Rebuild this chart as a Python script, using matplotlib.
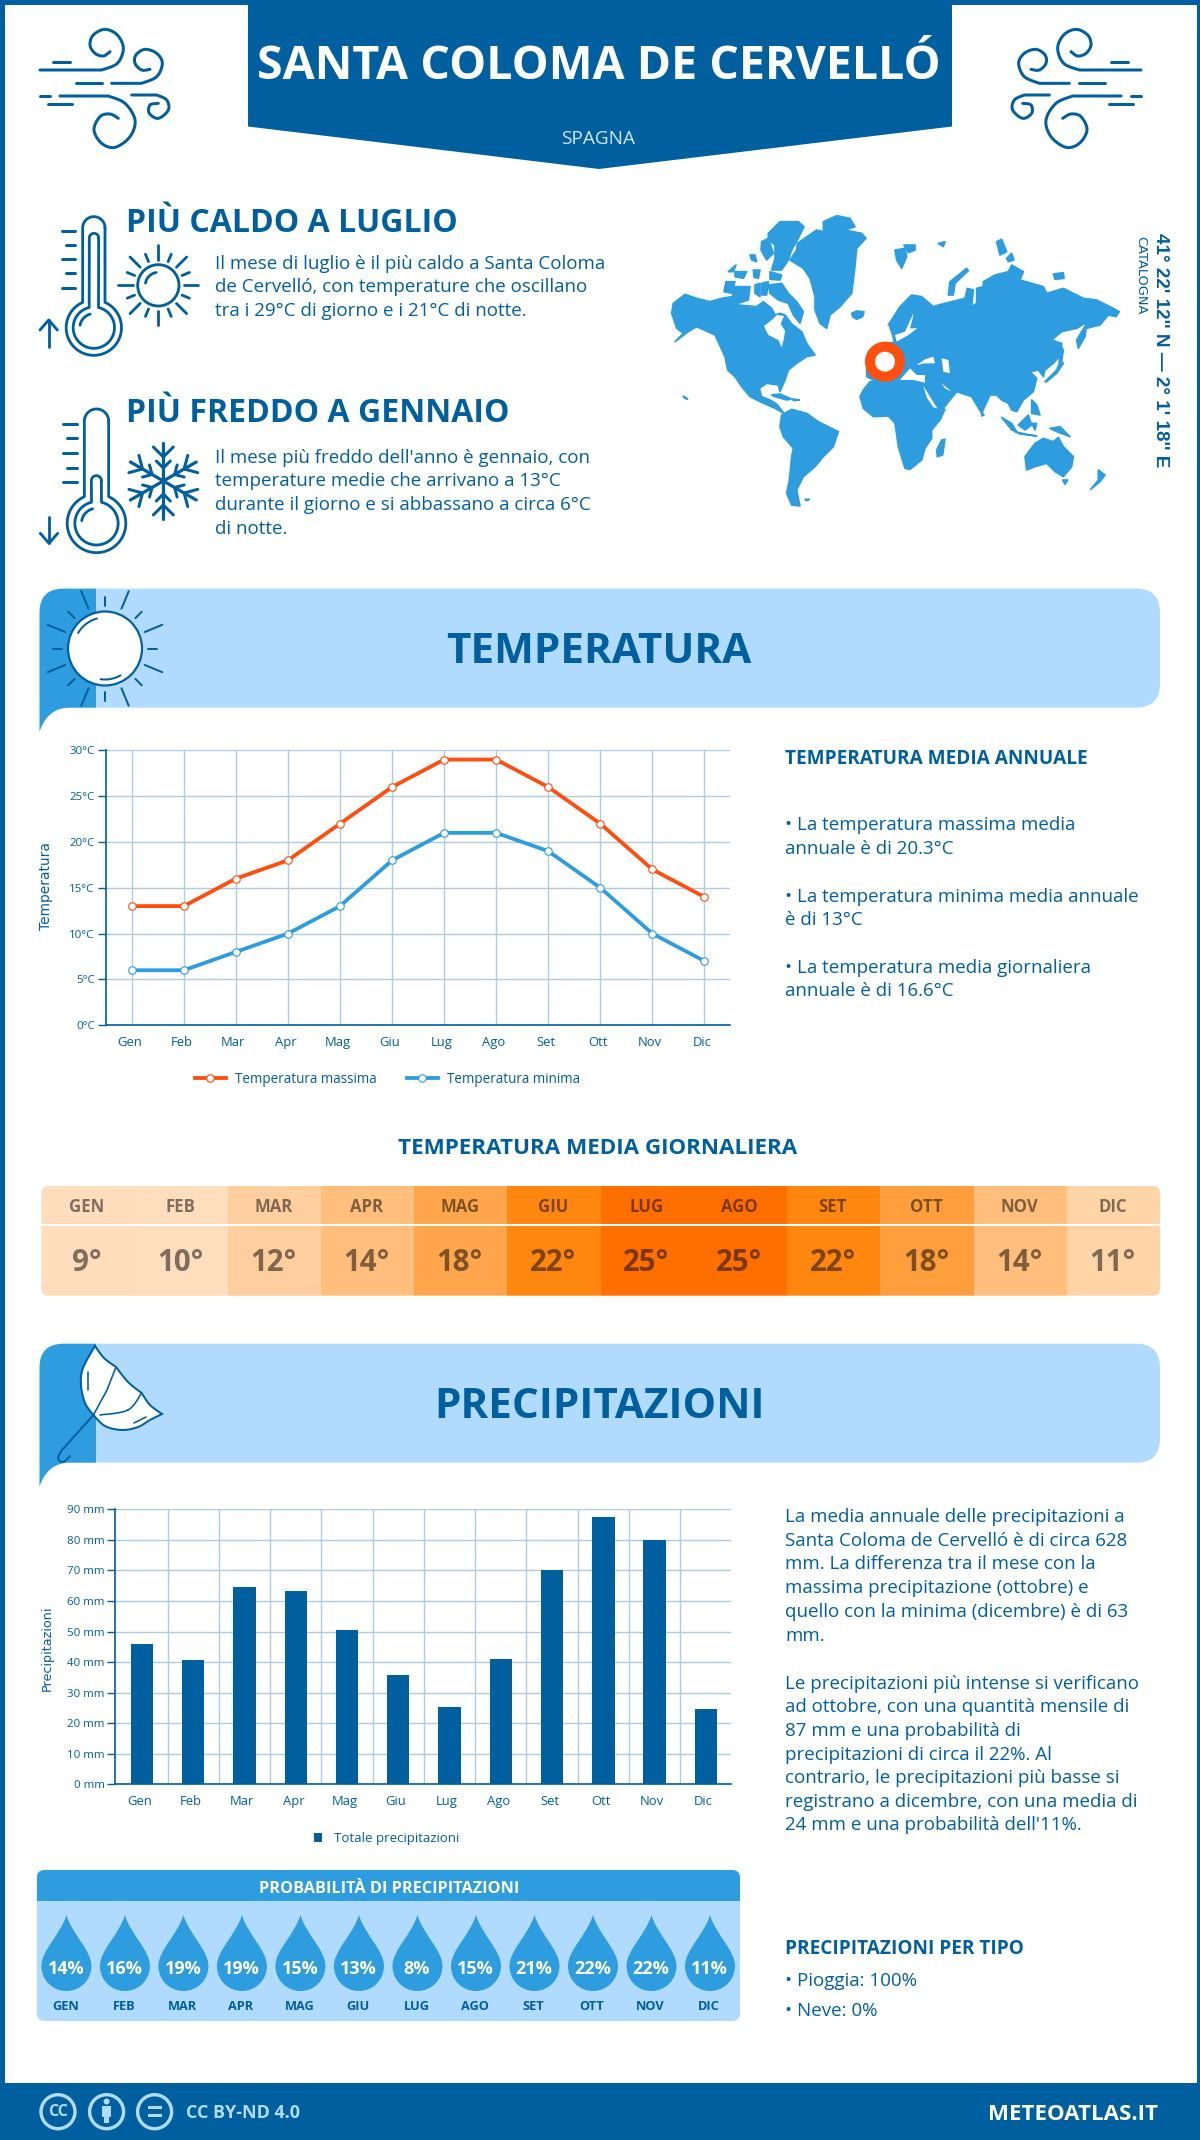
import numpy as np
import matplotlib
matplotlib.use("Agg")
import matplotlib.pyplot as plt
from matplotlib.patches import Circle, FancyBboxPatch, PathPatch, Polygon, Rectangle
from matplotlib.path import Path
from matplotlib.transforms import ScaledTranslation

plt.rcParams['font.family'] = ['Open Sans', 'DejaVu Sans']

months = ['Gen', 'Feb', 'Mar', 'Apr', 'Mag', 'Giu', 'Lug', 'Ago', 'Set', 'Ott', 'Nov', 'Dic']
temp_max = [13, 13, 16, 18, 22, 26, 29, 29, 26, 22, 17, 14]
temp_min = [6, 6, 8, 10, 13, 18, 21, 21, 19, 15, 10, 7]
temp_mean = [9, 10, 12, 14, 18, 22, 25, 25, 22, 18, 14, 11]
temp_colors = ['#FFDCBB', '#FFDDBD', '#FFCE9E', '#FFBE7C', '#FFA64D', '#FF870F',
               '#FF6F00', '#FF6F00', '#FF870F', '#FF9E3D', '#FFBE7C', '#FFD5A8']
precip = [46, 40.7, 64.7, 63.3, 50.5, 35.7, 25.3, 41, 70.2, 87.5, 80, 24.6]
prob = [14, 16, 19, 19, 15, 13, 8, 15, 21, 22, 22, 11]
temp_ticks = [0, 5, 10, 15, 20, 25, 30]
precip_ticks = [0, 10, 20, 30, 40, 50, 60, 70, 80, 90]

hot_text = ["Il mese di luglio è il più caldo a Santa Coloma",
            "de Cervelló, con temperature che oscillano",
            "tra i 29°C di giorno e i 21°C di notte."]
cold_text = ["Il mese più freddo dell'anno è gennaio, con",
             "temperature medie che arrivano a 13°C",
             "durante il giorno e si abbassano a circa 6°C",
             "di notte."]
annual_text = ["• La temperatura massima media", "annuale è di 20.3°C",
               "• La temperatura minima media annuale", "è di 13°C",
               "• La temperatura media giornaliera", "annuale è di 16.6°C"]
rain_text = ["La media annuale delle precipitazioni a",
             "Santa Coloma de Cervelló è di circa 628",
             "mm. La differenza tra il mese con la",
             "massima precipitazione (ottobre) e",
             "quello con la minima (dicembre) è di 63",
             "mm.",
             "Le precipitazioni più intense si verificano",
             "ad ottobre, con una quantità mensile di",
             "87 mm e una probabilità di",
             "precipitazioni di circa il 22%. Al",
             "contrario, le precipitazioni più basse si",
             "registrano a dicembre, con una media di",
             "24 mm e una probabilità dell'11%."]

map_west = [
    [(40,310),(75,283),(110,295),(150,305),(185,295),(215,290),(235,315),(290,320),(310,305),(335,325),(345,345),(360,340),(375,345),(395,372),(412,385),(425,395),(440,430),(465,465),(440,470),(410,490),(385,510),(375,540),(360,575),(355,555),(320,550),(298,565),(305,590),(330,600),(350,612),(372,640),(345,625),(300,605),(270,590),(245,560),(225,530),(203,510),(195,470),(165,405),(110,380),(85,395),(45,425),(70,400),(50,385),(42,360),(35,340)],
    [(325,255),(365,250),(385,280),(410,305),(430,335),(420,370),(400,345),(385,310),(355,300),(330,280)],
    [(220,260),(270,260),(265,300),(235,310),(218,290)],
    [(198,245),(225,245),(215,280),(192,275)],
    [(280,210),(300,210),(295,235),(282,232)],
    [(225,215),(260,215),(250,235),(225,230)],
    [(205,215),(228,195),(220,215)],
    [(285,255),(300,250),(300,290),(285,280)],
    [(305,250),(325,245),(320,285),(305,285)],
    [(270,165),(285,165),(290,185),(275,180)],
    [(325,100),(360,65),(415,65),(432,80),(415,115),(395,150),(385,180),(365,210),(335,210),(345,175),(345,135),(325,120)],
    [(305,125),(325,115),(340,160),(320,180),(303,150)],
    [(330,215),(365,225),(360,240),(330,238)],
    [(412,130),(470,90),(490,95),(490,65),(530,47),(570,55),(585,80),(555,90),(605,100),(618,115),(590,145),(585,200),(575,280),(540,320),(510,345),(500,385),(480,370),(465,330),(465,290),(450,235),(430,205),(390,180),(410,150)],
    [(575,340),(590,333),(612,335),(608,350),(590,358),(578,350)],
    [(335,585),(360,582),(395,597),(380,600),(345,590)],
    [(398,597),(418,600),(400,602)],
    [(70,588),(83,597),(75,595)],
    [(365,645),(395,628),(440,640),(475,665),(535,695),(520,740),(490,770),(465,800),(430,830),(410,870),(420,918),(395,915),(380,880),(388,840),(395,770),(400,745),(370,710),(360,680)],
    [(435,898),(448,898),(440,902)],
]
map_west_holes = [[(312,378),(338,358),(350,345),(372,348),(362,372),(375,392),(372,415),(365,442),(355,420),(325,405)]]
map_east = [
    [(-60,590),(-50,570),(-30,545),(10,540),(60,540),(130,555),(150,600),(170,625),(195,628),(180,660),(155,690),(155,715),(135,745),(125,780),(90,808),(75,805),(55,740),(45,670),(25,648),(-20,650),(-50,625)],
    [(170,750),(185,720),(195,718),(188,765),(172,770)],
    [(-40,500),(-20,440),(40,425),(25,375),(60,320),(95,285),(125,290),(160,320),(175,315),(215,305),(255,295),(262,265),(280,270),(275,320),(290,310),(290,265),(310,260),(310,245),(345,225),(385,215),(395,195),(430,215),(420,240),(490,260),(500,280),(550,265),(610,295),(650,300),(700,325),(718,335),(708,350),(685,345),(660,375),(620,385),(615,370),(590,385),(545,395),(515,420),(545,430),(545,460),(520,490),(495,510),(490,530),(475,510),(450,515),(470,535),(460,575),(430,600),(410,635),(395,630),(385,610),(365,600),(350,585),(330,585),(305,640),(275,590),(230,575),(190,625),(170,625),(145,580),(130,555),(100,545),(60,545),(-10,545),(-40,530)],
    [(45,150),(75,145),(80,170),(65,205),(50,180)],
    [(72,135),(105,135),(105,150),(85,158)],
    [(205,285),(210,245),(260,205),(265,212),(225,250),(220,285)],
    [(350,125),(365,118),(380,155),(360,165)],
    [(380,175),(395,160),(402,180),(385,185)],
    [(520,222),(550,218),(552,235),(525,238)],
    [(175,130),(195,125),(190,140)],
    [(590,420),(620,370),(615,410),(595,445)],
    [(495,545),(530,510),(538,490),(535,430),(550,450),(545,485),(550,490),(530,520),(500,545)],
    [(455,600),(470,615),(480,645),(455,640)],
    [(415,675),(445,645),(455,675),(435,690)],
    [(365,652),(395,670),(410,695),(395,690)],
    [(405,695),(450,705),(470,708),(420,702)],
    [(455,670),(470,670),(465,690)],
    [(510,685),(540,680),(570,710),(530,695)],
    [(435,770),(465,730),(490,715),(520,725),(535,712),(550,740),(580,770),(575,800),(550,830),(525,815),(500,790),(465,800),(440,810)],
    [(548,840),(563,840),(555,853)],
    [(655,810),(675,825),(660,845),(632,868),(655,840)],
    [(305,635),(312,645),(305,648)],
]
map_east_holes = [
    [(60,540),(90,505),(110,525),(135,525),(135,548),(100,540)],
    [(110,495),(135,478),(160,470),(165,490),(135,490)],
    [(185,475),(205,480),(210,520),(190,515)],
    [(185,550),(215,575),(195,565)],
    [(130,558),(150,590),(172,625),(160,622),(140,592)],
    [(100,340),(75,395),(45,405),(50,425),(85,405),(112,385),(90,385),(98,355)],
    [(25,375),(35,405),(40,425),(10,425)],
]

DARK = '#005F9E'
MID = '#2D9DDF'
LIGHT = '#B0DBFF'
ORANGE = '#FF4E0D'
GRID = '#AFCBE0'


def fs(px):
    return px * 0.72


fig = plt.figure(figsize=(12, 21.4), dpi=100, facecolor='white')
bg = fig.add_axes([0, 0, 1, 1])
bg.set_xlim(0, 1200)
bg.set_ylim(2140, 0)
bg.axis('off')


def ptext(x, y, s, px, color=DARK, weight='normal', ha='left', **kw):
    return bg.text(x, y, s, fontsize=fs(px), color=color, fontweight=weight, ha=ha, va='baseline', **kw)


def spline(pts, n=14):
    # catmull-rom through the points, icons only
    p = np.array([pts[0]] + list(pts) + [pts[-1]], float)
    out = []
    for i in range(1, len(p) - 2):
        t = np.linspace(0, 1, n)[:, None]
        out.append(0.5 * (2 * p[i] + (p[i + 1] - p[i - 1]) * t
                          + (2 * p[i - 1] - 5 * p[i] + 4 * p[i + 1] - p[i + 2]) * t ** 2
                          + (3 * p[i] - p[i - 1] - 3 * p[i + 1] + p[i + 2]) * t ** 3))
    return np.vstack(out)


def stroke(xy, lw=3, color=DARK, z=5):
    xy = np.asarray(xy, float)
    bg.plot(xy[:, 0], xy[:, 1], color=color, lw=fs(lw), solid_capstyle='round', solid_joinstyle='round', zorder=z)


def arc(cx, cy, r, a0, a1):
    a = np.radians(np.linspace(a0, a1, 50))
    return np.c_[cx + r * np.cos(a), cy - r * np.sin(a)]


# page frame, header, footer
bg.add_patch(Rectangle((0, 0), 1200, 2140, fc='white', ec='none', zorder=0))
bg.add_patch(Rectangle((1.5, 1.5), 1197, 2137, fc='none', ec=DARK, lw=fs(5), zorder=1))
bg.add_patch(Polygon([(248, 0), (952, 0), (952, 126.5), (599, 169), (248, 126.5)], fc=DARK, ec='none', zorder=2))
bg.add_patch(Rectangle((0, 2082.5), 1200, 58, fc=DARK, ec='none', zorder=2))
ptext(598.5, 79, 'SANTA COLOMA DE CERVELLÓ', 46.5, color='white', weight='bold', ha='center', zorder=6)
ptext(598, 144.5, 'SPAGNA', 19, color='#CFE6F7', ha='center', zorder=6)


def wind(flip=False):
    def T(pts):
        pts = np.asarray(pts, float)
        x = 30 + pts[:, 0] / 3
        y = 20 + pts[:, 1] / 3
        if flip:
            x = 1181 - x
        return np.c_[x, y]
    for seg in [[(68, 125), (120, 125)], [(138, 190), (215, 190)], [(30, 228), (60, 228)], [(55, 252), (125, 252)]]:
        stroke(T(seg))
    stroke(T(np.vstack([[(30, 150)], spline([(215, 150), (262, 130), (280, 85), (262, 45), (225, 28), (190, 45), (180, 75), (195, 100), (220, 108), (240, 95)])])))
    stroke(T(np.vstack([[(245, 190)], spline([(335, 190), (380, 170), (397, 130), (380, 100), (345, 88), (318, 105), (315, 130), (335, 150), (360, 148)])])))
    stroke(T(np.vstack([[(90, 228)], spline([(235, 228), (285, 250), (315, 300), (300, 350), (255, 382), (215, 370), (192, 330), (210, 290), (240, 282), (265, 295)])])))
    stroke(T(np.vstack([[(305, 225)], spline([(380, 225), (410, 240), (415, 270), (385, 295), (358, 280), (360, 255), (385, 250)])])))


wind()
wind(True)


def thermometer(ox, oy, tube, top, cy, r, itube, itop, ir, tick_x, tick_ys, arrow):
    def T(p):
        p = np.asarray(p, float)
        return np.c_[ox + p[:, 0] / 3, oy + p[:, 1] / 3]
    cx = (tube[0] + tube[1]) / 2
    hw = (tube[1] - tube[0]) / 2
    a = np.degrees(np.arcsin(hw / r))
    outer = np.vstack([arc(cx, top + hw, hw, 0, 180),
                       arc(cx, cy, r, 90 + a, 450 - a)])
    stroke(T(np.vstack([outer, outer[:1]])), lw=2.8)
    ihw = (itube[1] - itube[0]) / 2
    icx = (itube[0] + itube[1]) / 2
    a = np.degrees(np.arcsin(ihw / ir))
    inner = np.vstack([arc(icx, itop + ihw, ihw, 0, 180),
                       arc(cx, cy, ir, 90 + a, 450 - a)])
    stroke(T(np.vstack([inner, inner[:1]])), lw=2.8)
    stroke(T(arc(cx, cy, ir - 20, 105, 170)), lw=2.8)
    for k, yy in enumerate(tick_ys):
        x0 = tick_x[0] + (10 if k % 2 else 0)
        stroke(T([(x0, yy), (tick_x[1], yy)]), lw=3)
    ax_, y0, y1, dy = arrow
    stroke(T([(ax_, y0), (ax_, y1)]), lw=2.8)
    stroke(T([(ax_ - 26, y1 + dy), (ax_, y1), (ax_ + 26, y1 + dy)]), lw=2.8)


thermometer(30, 205, (158, 225), 35, 368, 83, (178, 206), 85, 62, (97, 135),
            [77, 120, 163, 205, 248], (56, 425, 345, 30))
thermometer(30, 395, (163, 236), 42, 385, 88, (184, 214), 242, 65, (100, 140),
            [86, 130, 174, 218, 262], (57, 365, 445, -30))

# small sun
sx, sy = 30 + 385 / 3, 205 + 241 / 3
bg.add_patch(Circle((sx, sy), 62 / 3, fc='none', ec=DARK, lw=fs(2.8), zorder=5))
stroke(arc(sx, sy, 13, 100, 170), lw=2.8)
for k in range(16):
    ang = np.radians(k * 22.5)
    r1 = 120 / 3 if k % 2 == 0 else 101 / 3
    stroke([(sx + 77 / 3 * np.cos(ang), sy - 77 / 3 * np.sin(ang)),
            (sx + r1 * np.cos(ang), sy - r1 * np.sin(ang))], lw=2.8)

# snowflake
fx, fy = 30 + 400 / 3, 395 + 258 / 3
for k in range(6):
    ang = np.radians(30 + k * 60)
    u = np.array([np.cos(ang), -np.sin(ang)])
    v = np.array([-u[1], u[0]])
    c = np.array([fx, fy])
    stroke([c, c + 38 * u], lw=3.2)
    stroke([c + 34 * u + 10 * v, c + 24 * u, c + 34 * u - 10 * v], lw=3)
    stroke([c + 20 * u + 7 * v, c + 13 * u, c + 20 * u - 7 * v], lw=3)

ptext(125.5, 232, 'PIÙ CALDO A LUGLIO', 32, weight='bold')
ptext(125.5, 422.5, 'PIÙ FREDDO A GENNAIO', 32, weight='bold')
for yy, line in zip([269, 292.5, 316], hot_text):
    ptext(215, yy, line, 18.8)
for yy, line in zip([463, 486.5, 510, 534], cold_text):
    ptext(215, yy, line, 18.8)

# world map
for group, ox, holes in [(map_west, 660, map_west_holes), (map_east, 880, map_east_holes)]:
    for poly in group:
        p = np.array(poly, float)
        bg.add_patch(Polygon(np.c_[ox + p[:, 0] / 3, 200 + p[:, 1] / 3], fc=MID, ec=MID, lw=1.2, joinstyle='round', zorder=3))
    for poly in holes:
        p = np.array(poly, float)
        bg.add_patch(Polygon(np.c_[ox + p[:, 0] / 3, 200 + p[:, 1] / 3], fc='white', ec='none', zorder=4))
bg.add_patch(Circle((885, 361.7), 15, fc='white', ec=ORANGE, lw=fs(10), zorder=6))
bg.text(1160, 350, '41° 22\' 12\'\' N — 2° 1\' 18\'\' E', rotation=-90, fontsize=fs(18.9), color=DARK, fontweight='bold',
        family='Liberation Sans', ha='center', va='center')
bg.text(1140.5, 275, 'CATALOGNA', rotation=-90, fontsize=fs(13), color=DARK, family='DejaVu Sans', ha='center', va='center')


def banner(top, bottom, title):
    left, split, right, r = 39.5, 96, 1160, 24
    dark = Path([(left, bottom + 24), (left, top + r), (left, top), (left + r, top), (split, top), (split, bottom),
                 (left + 30, bottom), (left + 8, bottom), (left, bottom + 24), (left, bottom + 24)],
                [Path.MOVETO, Path.LINETO, Path.CURVE3, Path.CURVE3, Path.LINETO, Path.LINETO, Path.LINETO,
                 Path.CURVE3, Path.CURVE3, Path.CLOSEPOLY])
    bg.add_patch(PathPatch(dark, fc=MID, ec='none', zorder=2))
    light = Path([(split, top), (right - r, top), (right, top), (right, top + r), (right, bottom - r), (right, bottom),
                  (right - r, bottom), (split, bottom), (split, top)],
                 [Path.MOVETO, Path.LINETO, Path.CURVE3, Path.CURVE3, Path.LINETO, Path.CURVE3, Path.CURVE3,
                  Path.LINETO, Path.CLOSEPOLY])
    bg.add_patch(PathPatch(light, fc=LIGHT, ec='none', zorder=2))
    ptext(599, (top + bottom) / 2 + 15, title, 42.3, weight='bold', ha='center', zorder=6)


banner(588.6, 707.7, 'TEMPERATURA')
banner(1343.7, 1462.7, 'PRECIPITAZIONI')

# banner sun
cx, cy = 105, 648.5
bg.add_patch(Circle((cx, cy), 37, fc='white', ec=DARK, lw=fs(2.2), zorder=5))
stroke(arc(cx, cy, 31, 105, 150), lw=2)
stroke(arc(cx, cy, 31, 262, 300), lw=2)
for k in range(16):
    ang = np.radians(k * 22.5)
    r1 = 62 if k % 2 else 52
    stroke([(cx + 43 * np.cos(ang), cy - 43 * np.sin(ang)), (cx + r1 * np.cos(ang), cy - r1 * np.sin(ang))], lw=2)

# umbrella
canopy = np.vstack([spline([(95, 1346), (83, 1368), (81, 1385), (85, 1403), (93.4, 1415)]),
                    spline([(93.4, 1415), (105, 1426), (122, 1430), (138, 1427), (150, 1420), (162, 1414)]),
                    spline([(162, 1414), (150, 1405), (141.6, 1393)]),
                    spline([(141.6, 1393), (128, 1382), (116, 1367)]),
                    spline([(116, 1367), (104, 1358), (95, 1346)])])
bg.add_patch(Polygon(canopy, fc='white', ec=DARK, lw=fs(2), zorder=5))
stroke([(116, 1367), (107, 1390), (93.4, 1415)], lw=1.6, z=6)
stroke(spline([(141.6, 1393), (128, 1410), (100, 1415)]), lw=1.6, z=6)
stroke([(88, 1372), (88, 1390)], lw=1.6, z=6)
stroke([(134, 1423), (146, 1417)], lw=1.6, z=6)
stroke([(93.4, 1415), (62, 1450)], lw=2, z=6)
stroke(spline([(62, 1450), (58, 1458), (63, 1462), (70, 1456)]), lw=2, z=6)

# temperature chart
ax = fig.add_axes([105.7 / 1200, 1 - 1025.2 / 2140, 624.8 / 1200, 274.8 / 2140])
x = np.arange(12)
ax.plot(x, temp_max, color=ORANGE, lw=fs(3.8), marker='o', ms=fs(7.5), mfc='white', mec=ORANGE, mew=0.8, label='Temperatura massima', zorder=4)
ax.plot(x, temp_min, color=MID, lw=fs(3.8), marker='o', ms=fs(7.5), mfc='white', mec=MID, mew=0.8, label='Temperatura minima', zorder=4)
ax.set_xlim(-0.5, 11.5)
ax.set_ylim(0, 30)
ax.set_yticks(temp_ticks)
ax.set_yticklabels([f'{t}°C' for t in temp_ticks])
ax.set_xticks(x)
ax.set_xticklabels(months)
ax.grid(True, color=GRID, lw=1)
ax.set_axisbelow(True)
ax.set_ylabel('Temperatura', fontsize=fs(13.7), color=DARK, family='DejaVu Sans')
ax.yaxis.set_label_coords(-0.084, 0.505)
ax.legend(loc='center', bbox_to_anchor=(387.5 / 1200, 1 - 1079.6 / 2140), bbox_transform=fig.transFigure, ncol=2,
          frameon=False, fontsize=fs(13.5), labelcolor=DARK, handlelength=2.3, columnspacing=2.2, handletextpad=0.7)

# precipitation chart
ax2 = fig.add_axes([115.4 / 1200, 1 - 1784.3 / 2140, 615.1 / 1200, 275 / 2140])
ax2.bar(x, precip, width=0.435, color=DARK, label='Totale precipitazioni', zorder=3)
ax2.set_xlim(-0.52, 11.48)
ax2.set_ylim(0, 90)
ax2.set_yticks(precip_ticks)
ax2.set_yticklabels([f'{t} mm' for t in precip_ticks])
ax2.set_xticks(x)
ax2.set_xticklabels(months)
ax2.set_xticks(x[:-1] + 0.5, minor=True)
ax2.grid(True, axis='y', color=GRID, lw=1)
ax2.grid(True, axis='x', which='minor', color=GRID, lw=1)
ax2.tick_params(axis='x', which='minor', length=0)
ax2.set_axisbelow(True)
ax2.set_ylabel('Precipitazioni', fontsize=fs(12.8), color=DARK, family='DejaVu Sans')
ax2.yaxis.set_label_coords(-0.10, 0.496)
ax2.legend(loc='center', bbox_to_anchor=(387 / 1200, 1 - 1838.7 / 2140), bbox_transform=fig.transFigure,
           frameon=False, fontsize=fs(13.3), labelcolor=DARK, handlelength=0.6, handleheight=0.6, handletextpad=0.9)

for a in (ax, ax2):
    for side in ('top', 'right'):
        a.spines[side].set_visible(False)
    for side in ('left', 'bottom'):
        a.spines[side].set_color(DARK)
        a.spines[side].set_linewidth(1.2)
    a.tick_params(axis='y', length=fs(8), width=1, color=DARK, labelcolor=DARK, labelsize=fs(11.5), pad=fs(3))
    a.tick_params(axis='x', which='major', length=0, labelcolor=DARK, labelsize=fs(13), pad=fs(11))
    for lab in a.get_xticklabels():
        lab.set_transform(lab.get_transform() + ScaledTranslation(-2.5 / 100, 0, fig.dpi_scale_trans))

# right column
ptext(785, 763.5, 'TEMPERATURA MEDIA ANNUALE', 19, weight='bold')
for yy, line in zip([830, 853.5, 902, 925, 973, 996.5], annual_text):
    ptext(785, yy, line, 18.8)
rain_base = [1522.3, 1545.5, 1569.3, 1593.2, 1617, 1640.6, 1688.6, 1712.5, 1735.6, 1759.5, 1783.4, 1807.2, 1830.4]
for yy, line in zip(rain_base, rain_text):
    ptext(785, yy, line, 18.8)
ptext(785, 1953.5, 'PRECIPITAZIONI PER TIPO', 19, weight='bold')
ptext(785, 1985.5, '• Pioggia: 100%', 18.8)
ptext(785, 2015.5, '• Neve: 0%', 18.8)

# mean temperature strip
ptext(598, 1154, 'TEMPERATURA MEDIA GIORNALIERA', 22.4, weight='bold', ha='center')
sl, sr, st, sb = 41.3, 1160, 1186, 1295.7
clip = FancyBboxPatch((sl, st), sr - sl, sb - st, boxstyle='round,pad=0,rounding_size=7', fc='none', ec='none', transform=bg.transData)
bg.add_patch(clip)
cw = (sr - sl) / 12
for i, (m, t, c) in enumerate(zip(months, temp_mean, temp_colors)):
    cell = Rectangle((sl + i * cw, st), cw + 0.5, sb - st, fc=c, ec='none', zorder=2)
    bg.add_patch(cell)
    cell.set_clip_path(clip)
    mid = sl + (i + 0.5) * cw - 1
    ptext(mid, 1212, m.upper(), 16.8, color='black', weight='bold', ha='center', alpha=0.5, zorder=4)
    ptext(mid, 1271, f'{t}°', 29.5, color='black', weight='bold', ha='center', alpha=0.5, zorder=4)
bg.plot([sl, sr], [1225, 1225], color='white', lw=1.5, zorder=3)

# rain probability box
pl, pr, pt, pm, pb = 36.8, 740, 1870, 1901, 2021
box = FancyBboxPatch((pl, pt), pr - pl, pb - pt, boxstyle='round,pad=0,rounding_size=8', fc=LIGHT, ec='none', zorder=2)
bg.add_patch(box)
head = Rectangle((pl, pt), pr - pl, pm - pt, fc=MID, ec='none', zorder=3)
bg.add_patch(head)
head.set_clip_path(box)
ptext(389, 1893, 'PROBABILITÀ DI PRECIPITAZIONI', 16.3, color='white', weight='bold', ha='center', zorder=5)
drop_step = (710 - 66.4) / 11
for i, (m, p) in enumerate(zip(months, prob)):
    dx = 66.4 + i * drop_step
    verts = [(dx, 1915), (dx - 6, 1935), (dx - 25, 1950), (dx - 25, 1966), (dx - 25, 1980), (dx - 14, 1991), (dx, 1991),
             (dx + 14, 1991), (dx + 25, 1980), (dx + 25, 1966), (dx + 25, 1950), (dx + 6, 1935), (dx, 1915)]
    codes = [Path.MOVETO] + [Path.CURVE4] * 12
    bg.add_patch(PathPatch(Path(verts, codes), fc=MID, ec='none', zorder=4))
    ptext(dx - 0.5, 1973.5, f'{p}%', 18, color='white', weight='bold', ha='center', zorder=5)
    ptext(dx - 1, 2009.5, m.upper(), 12.8, color=DARK, weight='bold', ha='center', zorder=5)

# footer
for fx_ in (58, 106.6, 154.6):
    bg.add_patch(Circle((fx_, 2111.7), 17, fc='none', ec=LIGHT, lw=fs(3.4), zorder=5))
bg.text(58, 2111.7, 'CC', fontsize=fs(16), color=LIGHT, fontweight='bold', ha='center', va='center', zorder=6)
bg.add_patch(Circle((106.6, 2101.5), 3, fc=LIGHT, ec='none', zorder=6))
bg.add_patch(Rectangle((102, 2106), 9, 11, fc=LIGHT, ec='none', zorder=6))
bg.add_patch(Rectangle((104, 2115), 5, 8, fc=LIGHT, ec='none', zorder=6))
bg.add_patch(Rectangle((147.5, 2105.5), 14, 3.5, fc=LIGHT, ec='none', zorder=6))
bg.add_patch(Rectangle((147.5, 2113.5), 14, 3.5, fc=LIGHT, ec='none', zorder=6))
ptext(185.5, 2118, 'CC BY-ND 4.0', 18, color=LIGHT, weight='bold', zorder=6)
ptext(1158, 2120, 'METEOATLAS.IT', 22.3, color='white', weight='bold', ha='right', zorder=6)

fig.savefig('out.png', dpi=100)
